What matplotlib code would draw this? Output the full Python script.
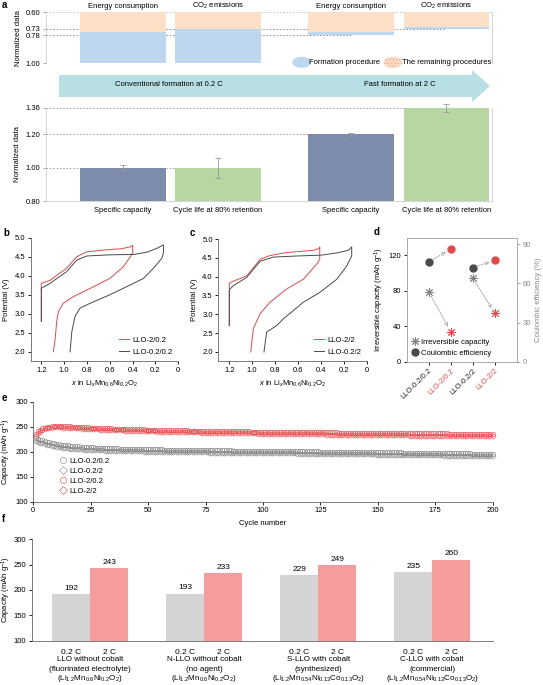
import matplotlib
matplotlib.use("Agg")
import matplotlib.pyplot as plt
from matplotlib.patches import Polygon, Ellipse

plt.rcParams['font.family'] = ['Liberation Sans', 'DejaVu Sans']
plt.rcParams['font.size'] = 5.5
plt.rcParams['mathtext.fontset'] = 'custom'
plt.rcParams['mathtext.rm'] = 'Liberation Sans'
plt.rcParams['mathtext.it'] = 'Liberation Sans:italic'
plt.rcParams['axes.linewidth'] = 0.6
plt.rcParams['xtick.major.width'] = 0.6
plt.rcParams['ytick.major.width'] = 0.6
plt.rcParams['xtick.major.size'] = 2
plt.rcParams['ytick.major.size'] = 2
plt.rcParams['xtick.major.pad'] = 2
plt.rcParams['ytick.major.pad'] = 2

W, H = 543, 685

# ---- data ----
# panel a (top): energy / CO2, inverted axis
a_top_titles = ['Energy consumption', 'CO$_2$ emissions', 'Energy consumption', 'CO$_2$ emissions']
a_top_total = [1.00, 1.00, 0.78, 0.73]
a_top_remaining = [0.757, 0.728, 0.757, 0.714]
a_top_ticks = [0.60, 0.73, 0.78, 1.00]
# panel a (bottom)
a_bot_labels = ['Specific capacity', 'Cycle life at 80% retention', 'Specific capacity', 'Cycle life at 80% retention']
a_bot_vals = [1.00, 1.00, 1.20, 1.36]
a_bot_err = [0.015, 0.06, 0.007, 0.025]
a_bot_ticks = [0.80, 1.00, 1.20, 1.36]
a_pos = [0, 1, 2.395, 3.4]

# panel b
b_red_x = [1.2, 1.2, 1.2, 1.124, 0.977, 0.89, 0.80, 0.70, 0.597, 0.50, 0.42, 0.40,
           0.40, 0.42, 0.48, 0.60, 0.77, 0.92, 1.007, 1.05, 1.065, 1.08, 1.095]
b_red_v = [2.8, 3.4, 3.80, 3.88, 4.20, 4.50, 4.63, 4.66, 4.69, 4.71, 4.76, 4.80,
           4.60, 4.50, 4.24, 3.93, 3.67, 3.45, 3.28, 3.06, 2.80, 2.30, 2.0]
b_gray_x = [1.2, 1.2, 1.2, 1.124, 0.977, 0.89, 0.80, 0.60, 0.39, 0.275, 0.188, 0.13,
            0.13, 0.144, 0.217, 0.305, 0.42, 0.60, 0.77, 0.86, 0.905, 0.933, 0.948]
b_gray_v = [2.8, 3.3, 3.67, 3.80, 4.11, 4.41, 4.52, 4.55, 4.56, 4.62, 4.72, 4.81,
            4.60, 4.46, 4.20, 3.93, 3.76, 3.50, 3.28, 3.15, 2.93, 2.53, 2.0]
# panel c
c_red_x = [1.2, 1.2, 1.2, 1.165, 1.048, 0.93, 0.845, 0.70, 0.466, 0.414, 0.41,
           0.41, 0.437, 0.554, 0.70, 0.845, 0.93, 0.99, 1.013]
c_red_v = [2.7, 3.4, 3.83, 3.88, 4.02, 4.46, 4.56, 4.64, 4.70, 4.75, 4.79,
           4.46, 4.33, 3.93, 3.67, 3.32, 3.02, 2.62, 2.0]
c_gray_x = [1.2, 1.2, 1.2, 1.165, 1.048, 0.93, 0.816, 0.60, 0.40, 0.262, 0.16, 0.131,
            0.131, 0.175, 0.262, 0.41, 0.554, 0.64, 0.728, 0.786, 0.874, 0.897]
c_gray_v = [2.7, 3.3, 3.65, 3.76, 3.98, 4.41, 4.52, 4.55, 4.57, 4.63, 4.70, 4.79,
            4.55, 4.28, 3.93, 3.58, 3.32, 3.10, 2.88, 2.70, 2.53, 2.0]

# panel d
d_labels = ['LLO-0.2/0.2', 'LLO-2/0.2', 'LLO-0.2/2', 'LLO-2/2']
d_irr = [79, 34, 94, 55]
d_ce = [76.5, 86, 72, 77.5]

# panel e (cycles 1..200)
e_cycles = list(range(1, 201))
e_llo_02_02 = [
    228, 226, 224, 222.5, 221, 219.7, 218.5, 217.5, 216.5, 215.7,
    215, 214.2, 213.5, 213, 212.5, 212, 211.5, 211.1, 210.8, 210.4,
    210, 209.7, 209.4, 209.1, 208.8, 208.5, 208.3, 208.1, 207.9, 207.7,
    207.5, 207.3, 207.1, 207.0, 206.8, 206.6, 206.5, 206.3, 206.2, 206.1,
    206.0, 205.8, 205.7, 205.6, 205.5, 205.4, 205.3, 205.2, 205.1, 205.0,
    204.9, 204.8, 204.7, 204.6, 204.5, 204.4, 204.3, 204.3, 204.2, 204.1,
    204.0, 204.0, 203.9, 203.8, 203.7, 203.7, 203.6, 203.5, 203.4, 203.4,
    203.3, 203.2, 203.2, 203.1, 203.0, 203.0, 202.9, 202.8, 202.8, 202.7,
    202.7, 202.6, 202.5, 202.5, 202.4, 202.4, 202.3, 202.2, 202.2, 202.1,
    202.1, 202.0, 202.0, 201.9, 201.9, 201.8, 201.8, 201.7, 201.7, 201.6,
    201.6, 201.5, 201.5, 201.4, 201.4, 201.3, 201.2, 201.2, 201.1, 201.1,
    201.0, 201.0, 200.9, 200.9, 200.8, 200.8, 200.7, 200.7, 200.6, 200.6,
    200.5, 200.5, 200.4, 200.4, 200.3, 200.3, 200.2, 200.2, 200.1, 200.1,
    200.0, 200.0, 199.9, 199.9, 199.8, 199.8, 199.7, 199.7, 199.6, 199.6,
    199.5, 199.5, 199.4, 199.4, 199.3, 199.2, 199.1, 199.1, 199.0, 199.0,
    198.9, 198.9, 198.8, 198.8, 198.7, 198.6, 198.5, 198.5, 198.4, 198.4,
    198.3, 198.3, 198.2, 198.1, 198.0, 198.0, 197.9, 197.9, 197.8, 197.7,
    197.6, 197.6, 197.5, 197.5, 197.4, 197.3, 197.2, 197.2, 197.1, 197.1,
    197.0, 196.9, 196.8, 196.8, 196.7, 196.7, 196.6, 196.5, 196.4, 196.4,
    196.3, 196.3, 196.2, 196.1, 196.0, 196.0, 195.9, 195.9, 195.8, 195.7]
e_llo_02_2 = [
    222, 220, 218, 216.5, 215, 213.7, 212.5, 211.5, 210.5, 209.7,
    209, 208.4, 207.8, 207.3, 206.8, 206.3, 205.9, 205.5, 205.2, 204.9,
    204.6, 204.3, 204.0, 203.7, 203.5, 203.3, 203.1, 202.9, 202.7, 202.5,
    202.3, 202.1, 202.0, 201.8, 201.7, 201.5, 201.4, 201.3, 201.2, 201.1,
    201.0, 200.9, 200.8, 200.7, 200.6, 200.5, 200.4, 200.3, 200.2, 200.1,
    200.0, 200.0, 199.9, 199.8, 199.7, 199.7, 199.6, 199.5, 199.4, 199.4,
    199.3, 199.2, 199.2, 199.1, 199.0, 199.0, 198.9, 198.8, 198.8, 198.7,
    198.7, 198.6, 198.5, 198.5, 198.4, 198.4, 198.3, 198.2, 198.2, 198.1,
    198.1, 198.0, 198.0, 197.9, 197.9, 197.8, 197.7, 197.7, 197.6, 197.6,
    197.5, 197.5, 197.4, 197.4, 197.3, 197.3, 197.2, 197.2, 197.1, 197.1,
    197.0, 197.0, 196.9, 196.9, 196.8, 196.8, 196.7, 196.7, 196.6, 196.6,
    196.5, 196.5, 196.4, 196.4, 196.3, 196.3, 196.2, 196.2, 196.1, 196.1,
    196.0, 196.0, 195.9, 195.9, 195.8, 195.7, 195.6, 195.6, 195.5, 195.5,
    195.4, 195.4, 195.3, 195.3, 195.2, 195.2, 195.1, 195.1, 195.0, 195.0,
    194.9, 194.8, 194.7, 194.7, 194.6, 194.6, 194.5, 194.4, 194.3, 194.3,
    194.2, 194.2, 194.1, 194.0, 193.9, 193.9, 193.8, 193.8, 193.7, 193.6,
    193.5, 193.5, 193.4, 193.4, 193.3, 193.2, 193.1, 193.1, 193.0, 193.0,
    192.9, 192.8, 192.7, 192.7, 192.6, 192.6, 192.5, 192.4, 192.3, 192.3,
    192.2, 192.2, 192.1, 192.0, 191.9, 191.9, 191.8, 191.8, 191.7, 191.6,
    191.5, 191.5, 191.4, 191.4, 191.3, 191.2, 191.1, 191.1, 191.0, 191.0]
e_llo_2_02 = [
    236, 240.5, 244, 246.5, 248, 249.2, 250, 250.6, 251, 251.2,
    251.2, 251.1, 251, 250.8, 250.6, 250.4, 250.2, 250.0, 249.7, 249.5,
    249.2, 249.0, 248.7, 248.5, 248.2, 248.0, 247.8, 247.6, 247.4, 247.2,
    247.0, 246.8, 246.6, 246.5, 246.3, 246.1, 246.0, 245.8, 245.7, 245.5,
    245.4, 245.2, 245.1, 244.9, 244.8, 244.6, 244.5, 244.4, 244.3, 244.1,
    244.0, 243.9, 243.8, 243.7, 243.6, 243.5, 243.4, 243.3, 243.2, 243.1,
    243.0, 242.9, 242.8, 242.7, 242.6, 242.5, 242.4, 242.3, 242.2, 242.2,
    242.1, 242.0, 241.9, 241.8, 241.7, 241.7, 241.6, 241.5, 241.4, 241.4,
    241.3, 241.2, 241.1, 241.1, 241.0, 240.9, 240.8, 240.8, 240.7, 240.6,
    240.5, 240.5, 240.4, 240.4, 240.3, 240.3, 240.2, 240.1, 240.0, 240.0,
    239.9, 239.9, 239.8, 239.8, 239.7, 239.7, 239.6, 239.6, 239.5, 239.5,
    239.4, 239.4, 239.3, 239.3, 239.2, 239.2, 239.1, 239.1, 239.0, 239.0,
    238.9, 238.9, 238.8, 238.8, 238.7, 238.7, 238.6, 238.6, 238.5, 238.5,
    238.4, 238.4, 238.3, 238.3, 238.2, 238.2, 238.2, 238.2, 238.1, 238.1,
    238.0, 238.0, 237.9, 237.9, 237.8, 237.8, 237.7, 237.7, 237.6, 237.6,
    237.6, 237.6, 237.5, 237.5, 237.4, 237.4, 237.3, 237.3, 237.2, 237.2,
    237.1, 237.1, 237.0, 237.0, 237.0, 237.0, 236.9, 236.9, 236.8, 236.8,
    236.7, 236.7, 236.6, 236.6, 236.5, 236.5, 236.5, 236.5, 236.4, 236.4,
    236.3, 236.3, 236.2, 236.2, 236.1, 236.1, 236.0, 236.0, 236.0, 236.0,
    235.9, 235.9, 235.8, 235.8, 235.7, 235.7, 235.6, 235.6, 235.5, 235.5]
e_llo_2_2 = [
    232, 236.5, 240, 243, 245, 246.5, 247.5, 248.1, 248.5, 248.6,
    248.6, 248.5, 248.3, 248.1, 247.9, 247.7, 247.4, 247.2, 246.9, 246.6,
    246.3, 246.1, 245.8, 245.5, 245.3, 245.0, 244.8, 244.5, 244.3, 244.1,
    243.9, 243.7, 243.5, 243.3, 243.1, 242.9, 242.7, 242.6, 242.4, 242.2,
    242.1, 241.9, 241.8, 241.6, 241.5, 241.3, 241.2, 241.0, 240.9, 240.7,
    240.6, 240.5, 240.4, 240.2, 240.1, 240.0, 239.9, 239.8, 239.7, 239.6,
    239.5, 239.4, 239.3, 239.2, 239.1, 239.0, 238.9, 238.8, 238.7, 238.6,
    238.5, 238.4, 238.3, 238.2, 238.1, 238.0, 237.9, 237.9, 237.8, 237.7,
    237.6, 237.5, 237.4, 237.4, 237.3, 237.2, 237.1, 237.0, 236.9, 236.9,
    236.8, 236.7, 236.7, 236.6, 236.5, 236.4, 236.4, 236.3, 236.2, 236.2,
    236.1, 236.0, 235.9, 235.9, 235.8, 235.7, 235.7, 235.6, 235.5, 235.5,
    235.4, 235.3, 235.3, 235.2, 235.1, 235.1, 235.0, 234.9, 234.9, 234.8,
    234.8, 234.7, 234.6, 234.6, 234.5, 234.4, 234.4, 234.3, 234.3, 234.2,
    234.2, 234.1, 234.0, 234.0, 233.9, 233.8, 233.8, 233.7, 233.7, 233.6,
    233.6, 233.5, 233.5, 233.4, 233.4, 233.3, 233.2, 233.1, 233.1, 233.0,
    233.0, 232.9, 232.9, 232.8, 232.8, 232.7, 232.7, 232.6, 232.6, 232.5,
    232.5, 232.4, 232.4, 232.3, 232.3, 232.2, 232.2, 232.1, 232.1, 232.0,
    232.0, 231.9, 231.9, 231.8, 231.8, 231.7, 231.7, 231.6, 231.6, 231.5,
    231.5, 231.4, 231.4, 231.3, 231.3, 231.2, 231.2, 231.1, 231.1, 231.0,
    231.0, 230.9, 230.9, 230.8, 230.8, 230.7, 230.7, 230.6, 230.6, 230.5]

# panel f
f_groups = [['LLO without cobalt', '(fluorinated electrolyte)', '(Li$_{1.2}$Mn$_{0.6}$Ni$_{0.2}$O$_2$)'],
            ['N-LLO without cobalt', '(no agent)', '(Li$_{1.2}$Mn$_{0.6}$Ni$_{0.2}$O$_2$)'],
            ['S-LLO with cobalt', '(synthesized)', '(Li$_{1.2}$Mn$_{0.54}$Ni$_{0.13}$Co$_{0.13}$O$_2$)'],
            ['C-LLO with cobalt', '(commercial)', '(Li$_{1.2}$Mn$_{0.54}$Ni$_{0.13}$Co$_{0.13}$O$_2$)']]
f_slow = [192, 193, 229, 235]
f_fast = [243, 233, 249, 260]
f_rates = ['0.2 C', '2 C']

RED = '#e8474a'
DGRAY = '#4a4a4a'

fig = plt.figure(figsize=(W / 100, H / 100), dpi=100)


def px_axes(l, t, r, b):
    return fig.add_axes([l / W, 1 - b / H, (r - l) / W, (b - t) / H])


def letter(x, y, s):
    fig.text(x / W, 1 - y / H, s, fontsize=7, fontweight='bold', va='center', ha='left')


# ---------- panel a top ----------
ax = px_axes(46, 12.3, 492, 63.3)
for i, p in enumerate(a_pos):
    ax.bar(p, a_top_total[i] - a_top_remaining[i], bottom=a_top_remaining[i], width=0.9,
           color='#bdd7ee', zorder=2)
    ax.bar(p, a_top_remaining[i] - 0.60, bottom=0.60, width=0.9, color='#fde0c5', zorder=2)
    ax.text(p, 0.552, a_top_titles[i], ha='center', va='center', fontsize=5.5, clip_on=False)
ax.set_xlim(-0.81, 3.88)
ax.set_ylim(1.00, 0.60)
ax.set_yticks(a_top_ticks)
ax.set_yticklabels(['%.2f' % t for t in a_top_ticks])
ax.set_xticks([])
ax.hlines(0.60, -0.81, 3.88, colors='#bbbbbb', linestyles=(0, (2, 2)), lw=0.6, zorder=1)
ax.hlines(1.00, -0.81, 3.88, colors='#bbbbbb', linestyles=(0, (2, 2)), lw=0.6, zorder=1)
ax.hlines(0.73, -0.81, a_pos[3], colors='#888888', linestyles=(0, (2, 2)), lw=0.6, zorder=1)
ax.hlines(0.78, -0.81, a_pos[2], colors='#888888', linestyles=(0, (2, 2)), lw=0.6, zorder=1)
for s in ['top', 'bottom']:
    ax.spines[s].set_visible(False)
for s in ['left', 'right']:
    ax.spines[s].set_color('#cccccc')
ax.tick_params(axis='y', colors='#999999', labelcolor='black')
ax.set_ylabel('Normalized data', labelpad=3)

# legend ellipses
fig.patches.append(Ellipse((301.7 / W, 1 - 62.3 / H), 19 / W, 11 / H, transform=fig.transFigure,
                           facecolor='#bdd7ee', edgecolor='none'))
fig.patches.append(Ellipse((393 / W, 1 - 62.3 / H), 19 / W, 11 / H, transform=fig.transFigure,
                           facecolor='#fde0c5', edgecolor='#f5b5a0', hatch='.....', lw=0))
fig.text(309 / W, 1 - 62.3 / H, 'Formation procedure', va='center')
fig.text(402 / W, 1 - 62.3 / H, 'The remaining procedures', va='center')

# big arrow
arrow_px = [(59, 75), (472, 75), (472, 70), (490, 86), (472, 102), (472, 97), (59, 97)]
fig.patches.append(Polygon([(x / W, 1 - y / H) for x, y in arrow_px], closed=True,
                           transform=fig.transFigure, facecolor='#b7dfe4', edgecolor='none'))
fig.text(169 / W, 1 - 85 / H, 'Conventional formation at 0.2 C', ha='center', va='center')
fig.text(399.5 / W, 1 - 85 / H, 'Fast formation at 2 C', ha='center', va='center')

# ---------- panel a bottom ----------
ax = px_axes(46, 107.7, 492, 201)
colors_ab = ['#7d8cad', '#b8d6a1', '#7d8cad', '#b8d6a1']
ax.bar(a_pos, [v - 0.80 for v in a_bot_vals], bottom=0.80, width=0.9, color=colors_ab, zorder=2)
ax.errorbar(a_pos, a_bot_vals, yerr=a_bot_err, fmt='none', ecolor='#999999', elinewidth=0.6,
            capsize=2, capthick=0.6, zorder=3, clip_on=False)
ax.hlines(1.00, -0.81, a_pos[1], colors='#999999', linestyles=(0, (2, 2)), lw=0.6, zorder=1)
ax.hlines(1.20, -0.81, a_pos[2], colors='#999999', linestyles=(0, (2, 2)), lw=0.6, zorder=1)
ax.hlines(1.36, -0.81, a_pos[3], colors='#999999', linestyles=(0, (2, 2)), lw=0.6, zorder=1)
ax.set_xlim(-0.81, 3.88)
ax.set_ylim(0.80, 1.36)
ax.set_yticks(a_bot_ticks)
ax.set_yticklabels(['%.2f' % t for t in a_bot_ticks])
ax.set_xticks(a_pos)
ax.set_xticklabels(a_bot_labels)
ax.tick_params(axis='x', length=0, pad=4)
ax.tick_params(axis='y', colors='#999999', labelcolor='black')
ax.spines['top'].set_visible(False)
for s in ['left', 'right', 'bottom']:
    ax.spines[s].set_color('#cccccc')
ax.set_ylabel('Normalized data', labelpad=3)


# ---------- panels b, c ----------
def voltage_panel(ax, rx, rv, gx, gv, labels, xleft):
    ax.plot(rx, rv, color=RED, lw=0.7, label=labels[0])
    ax.plot(gx, gv, color=DGRAY, lw=0.7, label=labels[1])
    ax.set_xlim(xleft, 0)
    ax.set_ylim(1.76, 5.0)
    ax.set_xticks([1.2, 1.0, 0.8, 0.6, 0.4, 0.2, 0])
    ax.set_xticklabels(['1.2', '1.0', '0.8', '0.6', '0.4', '0.2', '0'])
    ax.set_yticks([2.0, 2.5, 3.0, 3.5, 4.0, 4.5, 5.0])
    ax.set_ylabel('Potential (V)', labelpad=3)
    ax.set_xlabel('$x$ in Li$_x$Mn$_{0.6}$Ni$_{0.2}$O$_2$', labelpad=4)
    for s in ['top', 'right']:
        ax.spines[s].set_visible(False)
    for s in ['left', 'bottom']:
        ax.spines[s].set_color('#666666')
    ax.legend(loc='lower right', frameon=False, handlelength=1.3, handletextpad=0.5,
              labelspacing=0.6, borderaxespad=0.3)


ax = px_axes(30.7, 237.7, 178.3, 361)
voltage_panel(ax, b_red_x, b_red_v, b_gray_x, b_gray_v, ['LLO-2/0.2', 'LLO-0.2/0.2'], 1.293)
ax = px_axes(218.3, 239, 366.7, 361)
voltage_panel(ax, c_red_x, c_red_v, c_gray_x, c_gray_v, ['LLO-2/2', 'LLO-0.2/2'], 1.296)

# ---------- panel d ----------
ax = px_axes(406.7, 238.3, 516.7, 361.7)
ax2 = ax.twinx()
d_pos = [0, 1, 2, 3]
d_col = [DGRAY if i % 2 == 0 else RED for i in range(4)]
d_irr_col = ['#808080' if i % 2 == 0 else RED for i in range(4)]
for i in d_pos:
    ax.plot(d_pos[i], d_irr[i], marker=(8, 2, 0), ms=6, mew=0.7, color=d_irr_col[i], ls='none')
    ax2.plot(d_pos[i], d_ce[i], marker='o', ms=5, color=d_col[i], ls='none')
for i in [0, 2]:
    ax.annotate('', xy=(d_pos[i + 1], d_irr[i + 1]), xytext=(d_pos[i], d_irr[i]),
                arrowprops=dict(arrowstyle='->', ls=(0, (2, 1.5)), color='#999999', lw=0.6,
                                shrinkA=4, shrinkB=4))
    ax2.annotate('', xy=(d_pos[i + 1], d_ce[i + 1]), xytext=(d_pos[i], d_ce[i]),
                 arrowprops=dict(arrowstyle='->', ls=(0, (2, 1.5)), color='#999999', lw=0.6,
                                 shrinkA=4, shrinkB=4))
ax.set_xlim(-1, 4)
ax.set_ylim(0, 139)
ax2.set_ylim(0, 94.5)
ax.set_yticks([0, 40, 80, 120])
ax2.set_yticks([0, 30, 60, 90])
ax.set_xticks(d_pos)
ax.set_xticklabels(d_labels, rotation=45, ha='right', rotation_mode='anchor')
for lab, c in zip(ax.get_xticklabels(), d_col):
    lab.set_color('#222222' if c == DGRAY else RED)
ax.set_ylabel('Irreversible capacity (mAh g$^{-1}$)', labelpad=2)
ax2.set_ylabel('Coulombic efficiency (%)', color='#888888', labelpad=3)
ax2.tick_params(axis='y', colors='#999999', labelcolor='#888888')
for a_ in (ax, ax2):
    for s in a_.spines.values():
        s.set_color('#aaaaaa')
h1, = ax.plot([], [], marker=(8, 2, 0), ms=6, mew=0.7, color='#808080', ls='none')
h2, = ax.plot([], [], marker='o', ms=5, color=DGRAY, ls='none')
ax2.legend([h1, h2], ['Irreversible capacity', 'Coulombic efficiency'], loc='lower left',
           frameon=False, handletextpad=0.3, labelspacing=0.5, borderaxespad=0.2,
           handlelength=1.0)

# ---------- panel e ----------
ax = px_axes(33.3, 401.7, 492.7, 501.7)
e_series = [(e_llo_02_02, 'o', '#808080', 'LLO-0.2/0.2'),
            (e_llo_02_2, 'D', '#808080', 'LLO-0.2/2'),
            (e_llo_2_02, 'o', RED, 'LLO-2/0.2'),
            (e_llo_2_2, 'D', RED, 'LLO-2/2')]
for vals, m, c, lab in e_series:
    ax.plot(e_cycles, vals, ls='none', marker=m, ms=3.2 if m == 'o' else 2.7, mfc='none',
            mec=c, mew=0.4, label=lab, clip_on=False)
ax.set_xlim(0, 200)
ax.set_ylim(100, 300)
ax.set_xticks([0, 25, 50, 75, 100, 125, 150, 175, 200])
ax.set_yticks([100, 150, 200, 250, 300])
ax.set_xlabel('Cycle number', labelpad=4)
ax.set_ylabel('Capacity (mAh g$^{-1}$)')
ax.yaxis.set_label_coords(-(33.3 - 13) / 459.4, 0.5)
for s in ['top', 'right']:
    ax.spines[s].set_visible(False)
for s in ['left', 'bottom']:
    ax.spines[s].set_color('#666666')
ax.legend(loc='lower left', bbox_to_anchor=(0.04, 0.0), frameon=False, handletextpad=0.2,
          labelspacing=0.35, handlelength=1.2, markerscale=1.4)

# ---------- panel f ----------
ax = px_axes(31.7, 539.3, 493, 640.7)
f_x0 = [3 * i for i in range(4)]
f_x1 = [3 * i + 1 for i in range(4)]
ax.bar(f_x0, [v - 100 for v in f_slow], bottom=100, width=1.0, color='#d4d4d4')
ax.bar(f_x1, [v - 100 for v in f_fast], bottom=100, width=1.0, color='#f79c9c')
for x, v in zip(f_x0 + f_x1, f_slow + f_fast):
    ax.text(x, v + 5, str(v), ha='center', va='bottom', fontsize=6)
ax.set_xlim(-1.04, 11.1)
ax.set_ylim(100, 300)
ax.set_yticks([100, 150, 200, 250, 300])
ax.set_xticks(sorted(f_x0 + f_x1))
ax.set_xticklabels(f_rates * 4, fontsize=6)
ax.tick_params(axis='x', length=0, pad=6)
for i, lines in enumerate(f_groups):
    for j, t in enumerate(lines):
        ax.text(3 * i + 0.5, -0.19 - 0.093 * j, t, ha='center', va='center', fontsize=5.8,
                transform=ax.get_xaxis_transform())
ax.set_ylabel('Capacity (mAh g$^{-1}$)')
ax.yaxis.set_label_coords(-(31.7 - 13) / 461.3, 0.5)
for s in ['top', 'right']:
    ax.spines[s].set_visible(False)
for s in ['left', 'bottom']:
    ax.spines[s].set_color('#666666')

letter(2, 5, 'a')
letter(3, 233, 'b')
letter(190, 233, 'c')
letter(374, 232, 'd')
letter(2, 398, 'e')
letter(2, 519, 'f')

fig.savefig('out.png', dpi=100)
